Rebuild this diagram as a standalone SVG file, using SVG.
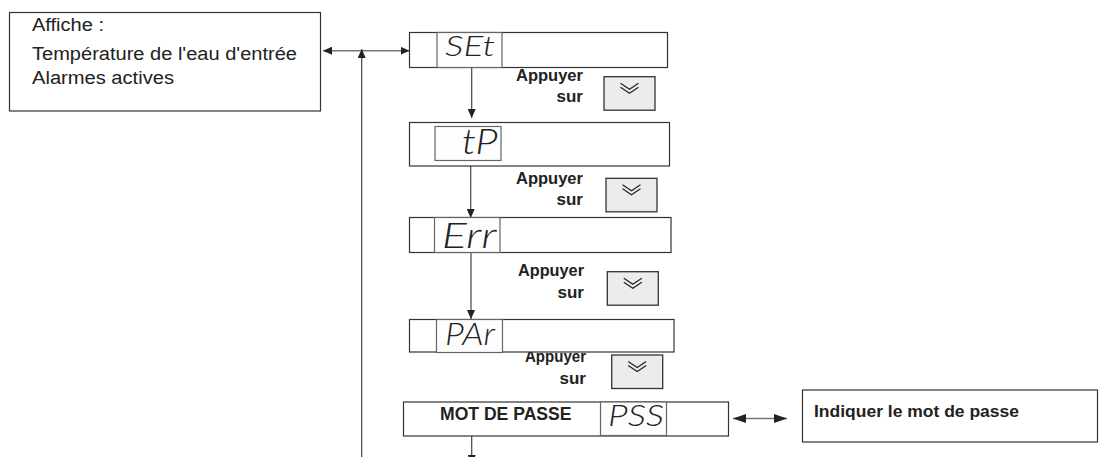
<svg xmlns="http://www.w3.org/2000/svg" width="1099" height="457" viewBox="0 0 1099 457">
<style>
.box{fill:#fff;stroke:#333;stroke-width:1.2}
.disp{fill:#fdfdfd;stroke:#666;stroke-width:1.2}
.t{font-family:"Liberation Sans",Arial,sans-serif;fill:#222}
.b{font-family:"Liberation Sans",Arial,sans-serif;font-weight:bold;fill:#222}
.seg{font-family:Lato,"DejaVu Sans",sans-serif;font-weight:300;font-style:italic;fill:#222}
.ln{stroke:#444;stroke-width:1.2;fill:none}
.lng{stroke:#777;stroke-width:1.5;fill:none}
</style>
<defs>
<marker id="ah" markerUnits="userSpaceOnUse" markerWidth="9" markerHeight="8" refX="9" refY="4" orient="auto">
<path d="M0,0 L9,4 L0,8 z" fill="#222"/>
</marker>
<marker id="ahs" markerUnits="userSpaceOnUse" markerWidth="9" markerHeight="8" refX="0" refY="4" orient="auto">
<path d="M9,0 L0,4 L9,8 z" fill="#222"/>
</marker>
<marker id="ahL" markerUnits="userSpaceOnUse" markerWidth="13" markerHeight="9" refX="13" refY="4.5" orient="auto">
<path d="M0,0 L13,4.5 L0,9 z" fill="#222"/>
</marker>
<marker id="ahLs" markerUnits="userSpaceOnUse" markerWidth="13" markerHeight="9" refX="0" refY="4.5" orient="auto">
<path d="M13,0 L0,4.5 L13,9 z" fill="#222"/>
</marker>
<g id="btn">
<rect x="0" y="0" width="51" height="33.5" fill="#ececec" stroke="#333" stroke-width="1.3"/>
<path d="M16.5,6.5 L25.5,12.5 L34.5,6.5 M16.5,10.5 L25.5,16.5 L34.5,10.5" fill="none" stroke="#222" stroke-width="1.2"/>
</g>
</defs>
<rect width="1099" height="457" fill="#fff"/>

<g id="labels">
<text class="b" x="516" y="80.5" font-size="17" textLength="67" lengthAdjust="spacingAndGlyphs">Appuyer</text>
<text class="b" x="583" y="101.5" font-size="17" text-anchor="end">sur</text>
<use href="#btn" x="604" y="76.7"/>
<text class="b" x="516" y="184" font-size="17" textLength="67" lengthAdjust="spacingAndGlyphs">Appuyer</text>
<text class="b" x="583" y="205" font-size="17" text-anchor="end">sur</text>
<use href="#btn" x="606" y="178.3"/>
<text class="b" x="518" y="275.5" font-size="17" textLength="66" lengthAdjust="spacingAndGlyphs">Appuyer</text>
<text class="b" x="584" y="298" font-size="17" text-anchor="end">sur</text>
<use href="#btn" x="607.3" y="271.7"/>
<text class="b" x="525" y="361.7" font-size="17" textLength="61" lengthAdjust="spacingAndGlyphs">Appuyer</text>
<text class="b" x="586" y="384.3" font-size="17" text-anchor="end">sur</text>
<use href="#btn" x="611.7" y="355"/>
</g>

<g id="connectors">
<line class="lng" x1="323" y1="50.7" x2="409.5" y2="50.7" marker-start="url(#ahs)" marker-end="url(#ah)"/>
<line class="ln" x1="361.7" y1="457" x2="361.7" y2="49" marker-end="url(#ah)"/>
<line class="ln" x1="471.7" y1="67.5" x2="471.7" y2="118" marker-end="url(#ah)"/>
<line class="ln" x1="470.7" y1="166" x2="470.7" y2="218" marker-end="url(#ah)"/>
<line class="ln" x1="471" y1="252.5" x2="471" y2="319" marker-end="url(#ah)"/>
<line class="ln" x1="471.7" y1="436" x2="471.7" y2="464" marker-end="url(#ah)"/>
<line class="lng" x1="733" y1="418.5" x2="787" y2="418.5" marker-start="url(#ahLs)" marker-end="url(#ahL)"/>
</g>

<g id="n-affiche">
<rect class="box" x="9.5" y="12.5" width="311" height="98.5"/>
<text class="t" x="32" y="30.5" font-size="18" textLength="72" lengthAdjust="spacingAndGlyphs">Affiche :</text>
<text class="t" x="32" y="60" font-size="18" textLength="265" lengthAdjust="spacingAndGlyphs">Température de l'eau d'entrée</text>
<text class="t" x="32" y="83.5" font-size="18" textLength="142" lengthAdjust="spacingAndGlyphs">Alarmes actives</text>
</g>

<g id="n-set">
<rect class="box" x="409.5" y="32.5" width="258" height="35"/>
<rect class="disp" x="437" y="32.5" width="65" height="35"/>
<text class="seg" x="445" y="56" font-size="27" textLength="50" lengthAdjust="spacingAndGlyphs">SEt</text>
</g>

<g id="n-tp">
<rect class="box" x="409.5" y="122.5" width="260" height="43.5"/>
<rect class="disp" x="435" y="126.5" width="66" height="34"/>
<text class="seg" x="461.7" y="154" font-size="35" textLength="36" lengthAdjust="spacingAndGlyphs">tP</text>
</g>

<g id="n-err">
<rect class="box" x="409.5" y="217.5" width="261.5" height="35"/>
<rect class="disp" x="434.5" y="217.5" width="65.5" height="35"/>
<text class="seg" x="441.7" y="248" font-size="35" textLength="55" lengthAdjust="spacingAndGlyphs">Err</text>
</g>

<g id="n-par">
<rect class="box" x="409.5" y="319.5" width="264.5" height="32.5"/>
<rect class="disp" x="436.5" y="319.5" width="66" height="33"/>
<text class="seg" x="445" y="345" font-size="32" textLength="50" lengthAdjust="spacingAndGlyphs">PAr</text>
</g>

<g id="n-mdp">
<rect class="box" x="403.5" y="402" width="325" height="34"/>
<text class="b" x="440" y="420" font-size="17.5" textLength="131.5" lengthAdjust="spacingAndGlyphs">MOT DE PASSE</text>
<rect class="disp" x="600.5" y="402" width="66" height="33.5"/>
<text class="seg" x="608" y="426" font-size="29" textLength="56" lengthAdjust="spacingAndGlyphs">PSS</text>
</g>

<g id="n-indiquer">
<rect class="box" x="802.5" y="390" width="295" height="52"/>
<text class="b" x="814" y="417.3" font-size="16.5" textLength="205" lengthAdjust="spacingAndGlyphs">Indiquer le mot de passe</text>
</g>
</svg>
